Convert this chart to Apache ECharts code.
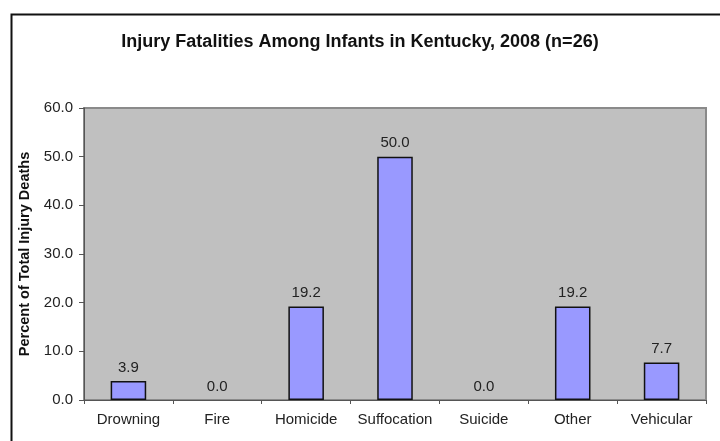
<!DOCTYPE html>
<html>
<head>
<meta charset="utf-8">
<script src="https://cdn.jsdelivr.net/npm/echarts@6/dist/echarts.min.js"></script>
<style>
  html, body { margin: 0; padding: 0; background: #ffffff; }
  #chart { width: 720px; height: 441px; }
</style>
</head>
<body>
<div id="chart"></div>
<script>
// Injury fatality causes and their share of all infant injury deaths (%)
const categories = ['Drowning', 'Fire', 'Homicide', 'Suffocation', 'Suicide', 'Other', 'Vehicular'];
const percentValues = [3.9, 0.0, 19.2, 50.0, 0.0, 19.2, 7.7];
const yTicks = { min: 0, max: 60, interval: 10 };

const chart = echarts.init(document.getElementById('chart'), null, { renderer: 'canvas' });

const textColor = '#222222';
const baseFont = 'Liberation Sans, Arial, sans-serif';

// zero-height bars are not outlined
const barData = percentValues.map(v => (
  v === 0 ? { value: v, itemStyle: { borderWidth: 0 } } : v
));

chart.setOption({
  animation: false,
  backgroundColor: '#ffffff',
  title: {
    text: 'Injury Fatalities Among Infants in Kentucky, 2008 (n=26)',
    left: 'center',
    top: 28,
    textStyle: { fontFamily: baseFont, fontSize: 18, fontWeight: 'bold', color: '#111111' }
  },
  graphic: [
    {
      // outer chart frame (runs past the right and bottom edges)
      type: 'rect',
      left: 9, top: 12,
      shape: { width: 760, height: 480 },
      style: { fill: null, stroke: '#111111', lineWidth: 2 },
      silent: true,
      z: 0
    }
  ],
  grid: {
    left: 84, right: 14, top: 108, bottom: 41,
    show: true,
    backgroundColor: '#c0c0c0',
    borderColor: '#8a8a8a',
    borderWidth: 2
  },
  xAxis: {
    type: 'category',
    data: categories,
    axisLine: { show: true, lineStyle: { color: '#555555', width: 1 } },
    axisTick: { show: true, interval: 0, alignWithLabel: false, length: 4, lineStyle: { color: '#555555' } },
    axisLabel: { interval: 0, color: textColor, fontFamily: baseFont, fontSize: 15, margin: 12 },
    splitLine: { show: false }
  },
  yAxis: {
    type: 'value',
    min: yTicks.min,
    max: yTicks.max,
    interval: yTicks.interval,
    name: 'Percent of Total Injury Deaths',
    nameLocation: 'middle',
    nameGap: 46,
    nameTextStyle: {
      fontFamily: baseFont,
      fontSize: 14.5, fontWeight: 'bold', color: '#111111'
    },
    axisLine: { show: true, lineStyle: { color: '#555555', width: 1 } },
    axisTick: { show: true, length: 5, lineStyle: { color: '#555555' } },
    axisLabel: {
      color: textColor, fontFamily: baseFont, fontSize: 15, margin: 11,
      formatter: v => v.toFixed(1)
    },
    splitLine: { show: false }
  },
  series: [{
    type: 'bar',
    data: barData,
    barWidth: '40%',
    itemStyle: { color: '#9999ff', borderColor: '#111111', borderWidth: 1.5 },
    label: {
      show: true,
      position: 'top',
      distance: 6,
      color: textColor,
      fontFamily: baseFont,
      fontSize: 15,
      formatter: p => p.value.toFixed(1)
    }
  }]
});
</script>
</body>
</html>
